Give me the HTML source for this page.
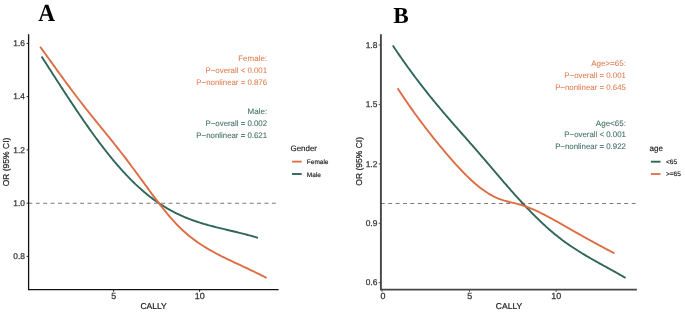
<!DOCTYPE html>
<html><head><meta charset="utf-8"><style>
html,body{margin:0;padding:0;background:#fff;}
body{width:685px;height:315px;overflow:hidden;}
svg{display:block;will-change:transform;}
text{font-family:"Liberation Sans",sans-serif;text-rendering:geometricPrecision;}
.ttl{font-family:"Liberation Serif",serif;font-weight:bold;font-size:23.5px;fill:#000;}
.tk{font-size:8.4px;fill:#333333;stroke:#333333;stroke-width:0.25px;}
.xtk{font-size:8.9px;}
.lab{font-size:8.5px;fill:#1A1A1A;stroke:#1A1A1A;stroke-width:0.2px;}
.ann{font-size:8.0px;stroke-width:0.05px;}
.lgt{font-size:7.7px;fill:#1A1A1A;stroke:#1A1A1A;stroke-width:0.15px;}
.lg{font-size:6.5px;fill:#1A1A1A;stroke:#1A1A1A;stroke-width:0.15px;}
</style></head><body>
<svg width="685" height="315" viewBox="0 0 685 315">
<rect width="685" height="315" fill="#fff"/>
<text transform="translate(38.3,20.8) scale(0.99,1.045)" class="ttl">A</text>
<line x1="28.5" y1="203.2" x2="278.6" y2="203.2" stroke="#7a7a7a" stroke-width="1.1" stroke-dasharray="3.9 3.475"/>
<path d="M41.60,56.58 L42.69,58.27 L43.77,59.96 L44.86,61.65 L45.95,63.34 L47.04,65.03 L48.12,66.72 L49.21,68.41 L50.30,70.10 L51.39,71.79 L52.47,73.48 L53.56,75.17 L54.65,76.85 L55.74,78.54 L56.82,80.22 L57.91,81.90 L59.00,83.58 L60.09,85.26 L61.17,86.94 L62.26,88.61 L63.35,90.28 L64.44,91.95 L65.52,93.61 L66.61,95.27 L67.70,96.92 L68.79,98.58 L69.87,100.22 L70.96,101.87 L72.05,103.51 L73.14,105.14 L74.22,106.77 L75.31,108.39 L76.40,110.01 L77.49,111.63 L78.57,113.23 L79.66,114.83 L80.75,116.43 L81.84,118.02 L82.92,119.60 L84.01,121.17 L85.10,122.74 L86.18,124.30 L87.27,125.85 L88.36,127.40 L89.45,128.93 L90.53,130.46 L91.62,131.98 L92.71,133.49 L93.80,134.99 L94.88,136.48 L95.97,137.97 L97.06,139.44 L98.15,140.91 L99.23,142.36 L100.32,143.81 L101.41,145.24 L102.50,146.67 L103.58,148.08 L104.67,149.49 L105.76,150.88 L106.85,152.26 L107.93,153.63 L109.02,154.99 L110.11,156.33 L111.20,157.67 L112.28,158.99 L113.37,160.30 L114.46,161.60 L115.55,162.89 L116.63,164.16 L117.72,165.43 L118.81,166.68 L119.90,167.91 L120.98,169.14 L122.07,170.35 L123.16,171.54 L124.25,172.73 L125.33,173.90 L126.42,175.06 L127.51,176.20 L128.59,177.33 L129.68,178.45 L130.77,179.55 L131.86,180.64 L132.94,181.71 L134.03,182.77 L135.12,183.82 L136.21,184.85 L137.29,185.87 L138.38,186.87 L139.47,187.86 L140.56,188.83 L141.64,189.80 L142.73,190.74 L143.82,191.68 L144.91,192.60 L145.99,193.50 L147.08,194.39 L148.17,195.27 L149.26,196.13 L150.34,196.98 L151.43,197.81 L152.52,198.63 L153.61,199.44 L154.69,200.23 L155.78,201.01 L156.87,201.78 L157.96,202.53 L159.04,203.26 L160.13,203.99 L161.22,204.70 L162.31,205.40 L163.39,206.08 L164.48,206.75 L165.57,207.41 L166.66,208.06 L167.74,208.70 L168.83,209.32 L169.92,209.93 L171.01,210.53 L172.09,211.12 L173.18,211.69 L174.27,212.26 L175.35,212.81 L176.44,213.35 L177.53,213.88 L178.62,214.40 L179.70,214.91 L180.79,215.41 L181.88,215.90 L182.97,216.38 L184.05,216.85 L185.14,217.30 L186.23,217.75 L187.32,218.19 L188.40,218.62 L189.49,219.04 L190.58,219.45 L191.67,219.86 L192.75,220.25 L193.84,220.64 L194.93,221.02 L196.02,221.39 L197.10,221.76 L198.19,222.11 L199.28,222.47 L200.37,222.81 L201.45,223.15 L202.54,223.48 L203.63,223.80 L204.72,224.12 L205.80,224.44 L206.89,224.75 L207.98,225.05 L209.07,225.35 L210.15,225.65 L211.24,225.94 L212.33,226.22 L213.42,226.51 L214.50,226.79 L215.59,227.06 L216.68,227.34 L217.76,227.61 L218.85,227.88 L219.94,228.14 L221.03,228.41 L222.11,228.67 L223.20,228.93 L224.29,229.19 L225.38,229.45 L226.46,229.70 L227.55,229.96 L228.64,230.22 L229.73,230.47 L230.81,230.73 L231.90,230.99 L232.99,231.24 L234.08,231.50 L235.16,231.76 L236.25,232.02 L237.34,232.28 L238.43,232.55 L239.51,232.81 L240.60,233.08 L241.69,233.35 L242.78,233.63 L243.86,233.90 L244.95,234.18 L246.04,234.47 L247.13,234.75 L248.21,235.05 L249.30,235.34 L250.39,235.64 L251.48,235.94 L252.56,236.25 L253.65,236.57 L254.74,236.89 L255.83,237.21 L256.91,237.55 L258.00,237.88" stroke="#2F665A" stroke-width="1.9" fill="none" stroke-linecap="butt" stroke-linejoin="round"/>
<path d="M40.10,46.70 L41.24,48.27 L42.38,49.83 L43.51,51.40 L44.65,52.97 L45.79,54.55 L46.93,56.12 L48.07,57.70 L49.21,59.28 L50.34,60.85 L51.48,62.43 L52.62,64.01 L53.76,65.59 L54.90,67.17 L56.03,68.74 L57.17,70.32 L58.31,71.89 L59.45,73.46 L60.59,75.03 L61.73,76.59 L62.86,78.16 L64.00,79.71 L65.14,81.27 L66.28,82.82 L67.42,84.36 L68.55,85.90 L69.69,87.44 L70.83,88.97 L71.97,90.49 L73.11,92.01 L74.25,93.52 L75.38,95.02 L76.52,96.52 L77.66,98.02 L78.80,99.50 L79.94,100.98 L81.07,102.46 L82.21,103.93 L83.35,105.39 L84.49,106.84 L85.63,108.29 L86.77,109.72 L87.90,111.16 L89.04,112.58 L90.18,114.01 L91.32,115.42 L92.46,116.83 L93.59,118.24 L94.73,119.65 L95.87,121.05 L97.01,122.45 L98.15,123.85 L99.29,125.25 L100.42,126.64 L101.56,128.04 L102.70,129.44 L103.84,130.84 L104.98,132.24 L106.12,133.64 L107.25,135.05 L108.39,136.46 L109.53,137.87 L110.67,139.28 L111.81,140.70 L112.94,142.12 L114.08,143.55 L115.22,144.98 L116.36,146.42 L117.50,147.87 L118.64,149.32 L119.77,150.77 L120.91,152.24 L122.05,153.71 L123.19,155.18 L124.33,156.67 L125.46,158.16 L126.60,159.65 L127.74,161.16 L128.88,162.66 L130.02,164.18 L131.16,165.70 L132.29,167.22 L133.43,168.75 L134.57,170.28 L135.71,171.82 L136.85,173.36 L137.98,174.91 L139.12,176.46 L140.26,178.01 L141.40,179.57 L142.54,181.12 L143.68,182.68 L144.81,184.24 L145.95,185.80 L147.09,187.36 L148.23,188.92 L149.37,190.47 L150.50,192.02 L151.64,193.56 L152.78,195.10 L153.92,196.63 L155.06,198.15 L156.20,199.66 L157.33,201.16 L158.47,202.66 L159.61,204.14 L160.75,205.61 L161.89,207.06 L163.02,208.50 L164.16,209.93 L165.30,211.34 L166.44,212.73 L167.58,214.10 L168.72,215.46 L169.85,216.80 L170.99,218.11 L172.13,219.40 L173.27,220.68 L174.41,221.92 L175.54,223.15 L176.68,224.34 L177.82,225.52 L178.96,226.66 L180.10,227.78 L181.24,228.88 L182.37,229.95 L183.51,231.00 L184.65,232.02 L185.79,233.02 L186.93,234.00 L188.06,234.96 L189.20,235.90 L190.34,236.81 L191.48,237.71 L192.62,238.59 L193.76,239.45 L194.89,240.29 L196.03,241.11 L197.17,241.92 L198.31,242.71 L199.45,243.48 L200.58,244.25 L201.72,244.99 L202.86,245.72 L204.00,246.44 L205.14,247.15 L206.28,247.84 L207.41,248.52 L208.55,249.20 L209.69,249.86 L210.83,250.51 L211.97,251.15 L213.11,251.78 L214.24,252.40 L215.38,253.02 L216.52,253.63 L217.66,254.22 L218.80,254.82 L219.93,255.40 L221.07,255.98 L222.21,256.55 L223.35,257.12 L224.49,257.68 L225.63,258.24 L226.76,258.79 L227.90,259.34 L229.04,259.88 L230.18,260.43 L231.32,260.97 L232.45,261.50 L233.59,262.04 L234.73,262.57 L235.87,263.10 L237.01,263.63 L238.15,264.17 L239.28,264.70 L240.42,265.23 L241.56,265.76 L242.70,266.29 L243.84,266.83 L244.97,267.36 L246.11,267.90 L247.25,268.44 L248.39,268.98 L249.53,269.52 L250.67,270.06 L251.80,270.61 L252.94,271.16 L254.08,271.70 L255.22,272.25 L256.36,272.80 L257.49,273.36 L258.63,273.91 L259.77,274.47 L260.91,275.03 L262.05,275.60 L263.19,276.16 L264.32,276.73 L265.46,277.30 L266.60,277.87" stroke="#DC6D44" stroke-width="1.9" fill="none" stroke-linecap="butt" stroke-linejoin="round"/>
<path d="M28.6,34.3 V289.6 H278.6" stroke="#111" stroke-width="1.3" fill="none" stroke-linecap="butt"/>
<line x1="26.6" y1="43.4" x2="28.6" y2="43.4" stroke="#111" stroke-width="0.9"/>
<text x="25.0" y="46.1" class="tk" text-anchor="end">1.6</text>
<line x1="26.6" y1="96.6" x2="28.6" y2="96.6" stroke="#111" stroke-width="0.9"/>
<text x="25.0" y="99.3" class="tk" text-anchor="end">1.4</text>
<line x1="26.6" y1="149.9" x2="28.6" y2="149.9" stroke="#111" stroke-width="0.9"/>
<text x="25.0" y="152.6" class="tk" text-anchor="end">1.2</text>
<line x1="26.6" y1="203.2" x2="28.6" y2="203.2" stroke="#111" stroke-width="0.9"/>
<text x="25.0" y="205.9" class="tk" text-anchor="end">1.0</text>
<line x1="26.6" y1="256.4" x2="28.6" y2="256.4" stroke="#111" stroke-width="0.9"/>
<text x="25.0" y="259.1" class="tk" text-anchor="end">0.8</text>
<line x1="113.6" y1="289.6" x2="113.6" y2="291.8" stroke="#111" stroke-width="0.9"/>
<text x="113.69999999999999" y="299.3" class="tk xtk" text-anchor="middle">5</text>
<line x1="199.6" y1="289.6" x2="199.6" y2="291.8" stroke="#111" stroke-width="0.9"/>
<text x="199.7" y="299.3" class="tk xtk" text-anchor="middle">10</text>
<text x="153.6" y="309.4" class="lab" text-anchor="middle">CALLY</text>
<text transform="translate(9.3,162) rotate(-90)" class="lab" text-anchor="middle">OR (95% CI)</text>
<text transform="translate(267.1,60.8) scale(1.0,1)" class="ann" fill="#E07B4E" stroke="#E07B4E" style="stroke-width:0.05px" text-anchor="end">Female:</text>
<text transform="translate(267.1,72.8) scale(0.982,1)" class="ann" fill="#E07B4E" stroke="#E07B4E" style="stroke-width:0.05px" text-anchor="end">P−overall &lt; 0.001</text>
<text transform="translate(267.1,84.6) scale(0.982,1)" class="ann" fill="#E07B4E" stroke="#E07B4E" style="stroke-width:0.05px" text-anchor="end">P−nonlinear = 0.876</text>
<text transform="translate(267.1,114.2) scale(1.0,1)" class="ann" fill="#47756B" stroke="#47756B" style="stroke-width:0.1px" text-anchor="end">Male:</text>
<text transform="translate(267.1,126.0) scale(0.982,1)" class="ann" fill="#47756B" stroke="#47756B" style="stroke-width:0.1px" text-anchor="end">P−overall = 0.002</text>
<text transform="translate(267.1,138.0) scale(0.982,1)" class="ann" fill="#47756B" stroke="#47756B" style="stroke-width:0.1px" text-anchor="end">P−nonlinear = 0.621</text>
<text x="290.5" y="150.9" class="lgt" style="font-size:7.95px">Gender</text>
<line x1="292.1" y1="161.6" x2="301.7" y2="161.6" stroke="#DC6D44" stroke-width="1.8"/>
<line x1="292.0" y1="174.0" x2="301.7" y2="174.0" stroke="#2F665A" stroke-width="1.9"/>
<text x="306.8" y="164.1" class="lg">Female</text>
<text x="306.8" y="176.5" class="lg">Male</text>
<text transform="translate(393.3,23.25) scale(1.012,1.0)" class="ttl" style="font-size:22.9px">B</text>
<line x1="380.9" y1="203.5" x2="636.9" y2="203.5" stroke="#7a7a7a" stroke-width="1.1" stroke-dasharray="3.9 3.475"/>
<path d="M392.80,45.51 L393.97,47.26 L395.14,49.00 L396.31,50.72 L397.48,52.44 L398.65,54.14 L399.82,55.84 L400.99,57.52 L402.16,59.20 L403.33,60.86 L404.50,62.52 L405.67,64.17 L406.84,65.80 L408.01,67.43 L409.18,69.05 L410.35,70.65 L411.52,72.25 L412.69,73.84 L413.86,75.41 L415.03,76.98 L416.20,78.54 L417.37,80.09 L418.54,81.63 L419.71,83.16 L420.88,84.68 L422.05,86.19 L423.22,87.69 L424.39,89.18 L425.56,90.67 L426.73,92.14 L427.90,93.61 L429.07,95.07 L430.24,96.52 L431.41,97.96 L432.57,99.40 L433.74,100.83 L434.91,102.25 L436.08,103.66 L437.25,105.07 L438.42,106.47 L439.59,107.86 L440.76,109.25 L441.93,110.64 L443.10,112.01 L444.27,113.39 L445.44,114.75 L446.61,116.11 L447.78,117.47 L448.95,118.82 L450.12,120.17 L451.29,121.52 L452.46,122.86 L453.63,124.20 L454.80,125.53 L455.97,126.86 L457.14,128.19 L458.31,129.52 L459.48,130.85 L460.65,132.18 L461.82,133.50 L462.99,134.83 L464.16,136.15 L465.33,137.48 L466.50,138.81 L467.67,140.13 L468.84,141.46 L470.01,142.79 L471.18,144.13 L472.35,145.46 L473.52,146.80 L474.69,148.14 L475.86,149.48 L477.03,150.83 L478.20,152.18 L479.37,153.54 L480.54,154.90 L481.71,156.26 L482.88,157.62 L484.05,158.99 L485.22,160.36 L486.39,161.73 L487.56,163.10 L488.73,164.47 L489.90,165.85 L491.07,167.22 L492.24,168.59 L493.41,169.97 L494.58,171.34 L495.75,172.71 L496.92,174.08 L498.09,175.45 L499.26,176.82 L500.43,178.18 L501.60,179.55 L502.77,180.90 L503.94,182.26 L505.11,183.61 L506.28,184.96 L507.45,186.30 L508.62,187.64 L509.78,188.98 L510.95,190.31 L512.12,191.63 L513.29,192.95 L514.46,194.26 L515.63,195.57 L516.80,196.87 L517.97,198.16 L519.14,199.44 L520.31,200.72 L521.48,201.99 L522.65,203.26 L523.82,204.51 L524.99,205.76 L526.16,207.00 L527.33,208.23 L528.50,209.46 L529.67,210.67 L530.84,211.88 L532.01,213.07 L533.18,214.26 L534.35,215.43 L535.52,216.60 L536.69,217.75 L537.86,218.90 L539.03,220.03 L540.20,221.16 L541.37,222.27 L542.54,223.37 L543.71,224.46 L544.88,225.54 L546.05,226.60 L547.22,227.66 L548.39,228.70 L549.56,229.73 L550.73,230.74 L551.90,231.74 L553.07,232.73 L554.24,233.71 L555.41,234.67 L556.58,235.61 L557.75,236.54 L558.92,237.46 L560.09,238.37 L561.26,239.26 L562.43,240.14 L563.60,241.01 L564.77,241.86 L565.94,242.71 L567.11,243.54 L568.28,244.36 L569.45,245.17 L570.62,245.97 L571.79,246.76 L572.96,247.54 L574.13,248.31 L575.30,249.07 L576.47,249.82 L577.64,250.57 L578.81,251.30 L579.98,252.03 L581.15,252.75 L582.32,253.47 L583.49,254.17 L584.66,254.87 L585.83,255.57 L586.99,256.26 L588.16,256.94 L589.33,257.62 L590.50,258.29 L591.67,258.96 L592.84,259.63 L594.01,260.29 L595.18,260.95 L596.35,261.61 L597.52,262.26 L598.69,262.91 L599.86,263.56 L601.03,264.20 L602.20,264.85 L603.37,265.49 L604.54,266.14 L605.71,266.78 L606.88,267.42 L608.05,268.07 L609.22,268.71 L610.39,269.35 L611.56,270.00 L612.73,270.65 L613.90,271.30 L615.07,271.95 L616.24,272.61 L617.41,273.26 L618.58,273.92 L619.75,274.59 L620.92,275.26 L622.09,275.93 L623.26,276.61 L624.43,277.29 L625.60,277.98" stroke="#2F665A" stroke-width="1.9" fill="none" stroke-linecap="butt" stroke-linejoin="round"/>
<path d="M397.60,88.26 L398.69,89.93 L399.78,91.59 L400.87,93.23 L401.96,94.87 L403.05,96.50 L404.14,98.11 L405.23,99.71 L406.32,101.31 L407.41,102.89 L408.49,104.46 L409.58,106.03 L410.67,107.58 L411.76,109.12 L412.85,110.65 L413.94,112.18 L415.03,113.69 L416.12,115.19 L417.21,116.69 L418.30,118.17 L419.39,119.65 L420.48,121.11 L421.57,122.57 L422.66,124.02 L423.75,125.46 L424.84,126.89 L425.93,128.31 L427.02,129.73 L428.10,131.13 L429.19,132.53 L430.28,133.92 L431.37,135.30 L432.46,136.68 L433.55,138.04 L434.64,139.40 L435.73,140.75 L436.82,142.09 L437.91,143.43 L439.00,144.76 L440.09,146.08 L441.18,147.39 L442.27,148.70 L443.36,150.00 L444.45,151.30 L445.54,152.59 L446.63,153.87 L447.71,155.14 L448.80,156.41 L449.89,157.67 L450.98,158.92 L452.07,160.16 L453.16,161.39 L454.25,162.62 L455.34,163.83 L456.43,165.03 L457.52,166.22 L458.61,167.40 L459.70,168.57 L460.79,169.73 L461.88,170.87 L462.97,172.00 L464.06,173.12 L465.15,174.22 L466.24,175.30 L467.32,176.38 L468.41,177.43 L469.50,178.47 L470.59,179.50 L471.68,180.50 L472.77,181.49 L473.86,182.46 L474.95,183.41 L476.04,184.35 L477.13,185.26 L478.22,186.16 L479.31,187.03 L480.40,187.89 L481.49,188.72 L482.58,189.53 L483.67,190.32 L484.76,191.09 L485.85,191.83 L486.93,192.55 L488.02,193.25 L489.11,193.92 L490.20,194.57 L491.29,195.19 L492.38,195.79 L493.47,196.36 L494.56,196.91 L495.65,197.43 L496.74,197.92 L497.83,198.38 L498.92,198.81 L500.01,199.22 L501.10,199.60 L502.19,199.96 L503.28,200.30 L504.37,200.63 L505.46,200.93 L506.54,201.23 L507.63,201.51 L508.72,201.78 L509.81,202.05 L510.90,202.31 L511.99,202.57 L513.08,202.83 L514.17,203.09 L515.26,203.36 L516.35,203.63 L517.44,203.91 L518.53,204.20 L519.62,204.50 L520.71,204.82 L521.80,205.15 L522.89,205.50 L523.98,205.87 L525.07,206.24 L526.15,206.63 L527.24,207.04 L528.33,207.45 L529.42,207.88 L530.51,208.33 L531.60,208.78 L532.69,209.24 L533.78,209.72 L534.87,210.20 L535.96,210.69 L537.05,211.20 L538.14,211.71 L539.23,212.23 L540.32,212.76 L541.41,213.29 L542.50,213.84 L543.59,214.39 L544.68,214.95 L545.76,215.51 L546.85,216.08 L547.94,216.65 L549.03,217.24 L550.12,217.82 L551.21,218.41 L552.30,219.01 L553.39,219.61 L554.48,220.21 L555.57,220.82 L556.66,221.43 L557.75,222.04 L558.84,222.65 L559.93,223.27 L561.02,223.89 L562.11,224.51 L563.20,225.13 L564.29,225.75 L565.37,226.38 L566.46,227.00 L567.55,227.63 L568.64,228.25 L569.73,228.87 L570.82,229.49 L571.91,230.11 L573.00,230.73 L574.09,231.35 L575.18,231.97 L576.27,232.58 L577.36,233.19 L578.45,233.81 L579.54,234.42 L580.63,235.03 L581.72,235.64 L582.81,236.25 L583.90,236.85 L584.98,237.46 L586.07,238.06 L587.16,238.67 L588.25,239.27 L589.34,239.87 L590.43,240.47 L591.52,241.07 L592.61,241.66 L593.70,242.26 L594.79,242.85 L595.88,243.45 L596.97,244.04 L598.06,244.63 L599.15,245.22 L600.24,245.80 L601.33,246.39 L602.42,246.97 L603.51,247.56 L604.59,248.14 L605.68,248.72 L606.77,249.30 L607.86,249.88 L608.95,250.45 L610.04,251.03 L611.13,251.60 L612.22,252.17 L613.31,252.74 L614.40,253.31" stroke="#DC6D44" stroke-width="1.9" fill="none" stroke-linecap="butt" stroke-linejoin="round"/>
<path d="M380.9,34.3 V289.6 H636.9" stroke="#464646" stroke-width="1.9" fill="none" stroke-linecap="butt"/>
<line x1="378.6" y1="45.0" x2="380.9" y2="45.0" stroke="#464646" stroke-width="0.9"/>
<text x="377.3" y="47.7" class="tk" text-anchor="end">1.8</text>
<line x1="378.6" y1="104.4" x2="380.9" y2="104.4" stroke="#464646" stroke-width="0.9"/>
<text x="377.3" y="107.1" class="tk" text-anchor="end">1.5</text>
<line x1="378.6" y1="163.9" x2="380.9" y2="163.9" stroke="#464646" stroke-width="0.9"/>
<text x="377.3" y="166.6" class="tk" text-anchor="end">1.2</text>
<line x1="378.6" y1="223.3" x2="380.9" y2="223.3" stroke="#464646" stroke-width="0.9"/>
<text x="377.3" y="226.0" class="tk" text-anchor="end">0.9</text>
<line x1="378.6" y1="282.7" x2="380.9" y2="282.7" stroke="#464646" stroke-width="0.9"/>
<text x="377.3" y="285.4" class="tk" text-anchor="end">0.6</text>
<line x1="382.0" y1="289.6" x2="382.0" y2="291.9" stroke="#464646" stroke-width="0.9"/>
<text x="382.9" y="299.3" class="tk xtk" text-anchor="middle">0</text>
<line x1="469.5" y1="289.6" x2="469.5" y2="291.9" stroke="#464646" stroke-width="0.9"/>
<text x="469.6" y="299.3" class="tk xtk" text-anchor="middle">5</text>
<line x1="556.1" y1="289.6" x2="556.1" y2="291.9" stroke="#464646" stroke-width="0.9"/>
<text x="556.2" y="299.3" class="tk xtk" text-anchor="middle">10</text>
<text x="509" y="309.4" class="lab" text-anchor="middle">CALLY</text>
<text transform="translate(362.2,161.3) rotate(-90)" class="lab" text-anchor="middle">OR (95% CI)</text>
<text transform="translate(625.9,66.2) scale(1.0,1)" class="ann" fill="#E07B4E" stroke="#E07B4E" style="stroke-width:0.05px" text-anchor="end">Age&gt;=65:</text>
<text transform="translate(625.9,78.1) scale(0.982,1)" class="ann" fill="#E07B4E" stroke="#E07B4E" style="stroke-width:0.05px" text-anchor="end">P−overall = 0.001</text>
<text transform="translate(625.9,89.9) scale(0.982,1)" class="ann" fill="#E07B4E" stroke="#E07B4E" style="stroke-width:0.05px" text-anchor="end">P−nonlinear = 0.645</text>
<text transform="translate(625.9,125.5) scale(1.0,1)" class="ann" fill="#47756B" stroke="#47756B" style="stroke-width:0.1px" text-anchor="end">Age&lt;65:</text>
<text transform="translate(625.9,137.3) scale(0.982,1)" class="ann" fill="#47756B" stroke="#47756B" style="stroke-width:0.1px" text-anchor="end">P−overall &lt; 0.001</text>
<text transform="translate(625.9,148.9) scale(0.982,1)" class="ann" fill="#47756B" stroke="#47756B" style="stroke-width:0.1px" text-anchor="end">P−nonlinear = 0.922</text>
<text x="649.4" y="150.9" class="lgt" style="font-size:8.1px">age</text>
<line x1="650.9" y1="161.7" x2="660.5" y2="161.7" stroke="#2F665A" stroke-width="1.9"/>
<line x1="650.9" y1="174.0" x2="660.5" y2="174.0" stroke="#DC6D44" stroke-width="1.8"/>
<text x="666" y="164.1" class="lg">&lt;65</text>
<text x="666" y="176.3" class="lg">&gt;=65</text>
</svg>
</body></html>
